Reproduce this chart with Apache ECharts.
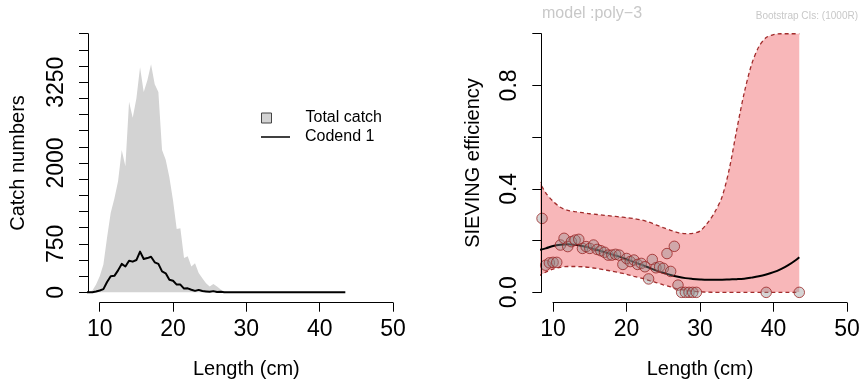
<!DOCTYPE html>
<html><head><meta charset="utf-8">
<script src="https://cdn.jsdelivr.net/npm/echarts@6/dist/echarts.min.js"></script>
<style>html,body{margin:0;padding:0;background:#fff}#c{width:864px;height:387px}</style>
</head><body><div id="c"></div>
<script>
// ---------- left panel data ----------
const lengths = [8,8.5,9,9.5,10,10.5,11,11.5,12,12.5,13,13.5,14,14.5,15,15.5,16,16.5,17,17.5,18,18.5,19,19.5,20,20.5,21,21.5,22,22.5,23,23.5,24,24.5,25,25.5,26,26.5,27,27.5,28,28.5,29,29.5,30,30.5,31,31.5,32,32.5,33,33.5,34,34.5,35,35.5,36,36.5,37,37.5,38,38.5,39,39.5,40,40.5,41,41.5,42,42.5,43,43.5];
const totalCatch = [0,5,30,120,250,430,850,1230,1450,1720,2200,1950,2950,2700,3000,3480,3100,3280,3530,3220,3100,2200,2050,1780,1420,980,990,530,560,400,450,300,220,140,90,130,90,45,15,6,4,3,2,2,0,0,0,0,0,0,0,0,0,0,0,0,0,0,0,0,0,0,2,0,0,0,0,0,0,0,0,1];
const codend1 = [0,1,3,13,29,50,160,250,255,340,440,400,490,475,500,630,515,530,550,465,440,325,295,195,180,120,120,58,62,40,23,38,21,14,8,19,7,8,0.4,0,0,0,0,0,0,0,0,0,0,0,0,0,0,0,0,0,0,0,0,0,0,0,0,0,0,0,0,0,0,0,0,0];
const leftYTicksLabelled = [0, 750, 2000, 3250];
const xTickLabels = [10, 20, 30, 40, 50];

// ---------- right panel data ----------
const obsLength = [8,8.5,9,9.5,10,10.5,11,11.5,12,12.5,13,13.5,14,14.5,15,15.5,16,16.5,17,17.5,18,18.5,19,19.5,20,20.5,21,21.5,22,22.5,23,23.5,24,24.5,25,25.5,26,26.5,27,27.5,28,28.5,29,29.5,39,43.5];
const obsEff = [0.202,0.286,0.105,0.114,0.116,0.116,0.183,0.209,0.177,0.196,0.202,0.205,0.170,0.177,0.170,0.183,0.166,0.161,0.155,0.144,0.144,0.147,0.144,0.108,0.131,0.119,0.125,0.108,0.112,0.099,0.052,0.127,0.095,0.099,0.093,0.150,0.081,0.178,0.028,0,0,0,0,0,0,0];
const curveX = [8,9,10,11,12,13,14,15,16,17,18,19,20,21,22,23,24,25,26,27,28,29,30,31,32,33,34,35,36,37,38,39,40,41,42,43,43.5];
const fitEff = [0.163,0.170,0.179,0.184,0.186,0.184,0.179,0.172,0.164,0.156,0.147,0.138,0.128,0.117,0.107,0.096,0.085,0.076,0.067,0.060,0.055,0.052,0.050,0.049,0.049,0.049,0.050,0.051,0.053,0.057,0.062,0.069,0.078,0.090,0.105,0.124,0.136];
const ciUpper = [0.435,0.385,0.352,0.329,0.317,0.312,0.308,0.304,0.301,0.298,0.295,0.292,0.289,0.285,0.280,0.272,0.261,0.250,0.240,0.231,0.227,0.228,0.237,0.268,0.310,0.370,0.480,0.630,0.770,0.880,0.950,0.985,0.997,1.0,1.0,1.0,1.0];
const ciLower = [0.062,0.078,0.090,0.097,0.100,0.100,0.099,0.096,0.092,0.087,0.082,0.076,0.070,0.062,0.055,0.046,0.038,0.029,0.021,0.013,0.008,0.004,0.002,0.001,0,0,0,0,0,0,0,0,0,0,0,0,0];
const rightYTicksLabelled = [0, 0.4, 0.8];

const FONT = 'Liberation Sans, Arial, Helvetica, sans-serif';
const TICK_FS = 23, NAME_FS = 20;

const pairs = (xs, ys) => xs.map((x, i) => [x, ys[i]]);

// grid geometry (R plot regions and axis extents)
const L = {axLeft: 99.7, axW: 293.3, plotLeft: 88, plotW: 316.7};
const R = {axLeft: 553, axW: 294, plotLeft: 541.3, plotW: 317.5};
const axTop = 33.7, axH = 258.6, plotTop = 23.4, plotH = 279.3;

function shownAxisX(gridIndex, name) {
  return {
    type: 'value', gridIndex, min: 10, max: 50, interval: 10, offset: 10.4, position: 'bottom', z: 10,
    axisLine: {show: true, onZero: false, lineStyle: {color: '#000', width: 1}},
    axisTick: {show: true, length: 9, lineStyle: {color: '#000', width: 1}},
    axisLabel: {show: true, margin: 15, fontSize: TICK_FS, color: '#000', fontFamily: FONT,
      formatter: v => xTickLabels.indexOf(v) >= 0 ? String(v) : ''},
    splitLine: {show: false},
    name, nameLocation: 'middle', nameGap: 57,
    nameTextStyle: {fontSize: NAME_FS, color: '#000', fontFamily: FONT}
  };
}
function hiddenAxis(gridIndex, min, max) {
  return {type: 'value', gridIndex, min, max, show: false, splitLine: {show: false}};
}

const option = {
  animation: false,
  backgroundColor: '#fff',
  textStyle: {fontFamily: FONT},
  title: [
    {text: 'model :poly\u22123', left: 542, top: 6, padding: 0,
      textStyle: {fontSize: 16, fontWeight: 'normal', color: '#c8c8c8', fontFamily: FONT}},
    {text: 'Bootstrap CIs: (1000R)', right: 6, top: 11, padding: 0,
      textStyle: {fontSize: 10, fontWeight: 'normal', color: '#c8c8c8', fontFamily: FONT}}
  ],
  legend: [
    {left: 261, top: 110, padding: 0, orient: 'vertical', itemWidth: 10, itemHeight: 10,
      data: [{name: 'Total catch', icon: 'rect', itemStyle: {color: '#d3d3d3', borderColor: '#444', borderWidth: 1}}],
      textStyle: {fontSize: 16, color: '#000', fontFamily: FONT, padding: [0, 0, 0, 29]}, selectedMode: false},
    {left: 261, top: 129, padding: 0, orient: 'vertical', itemWidth: 29, itemHeight: 1.5,
      data: [{name: 'Codend 1', icon: 'rect', itemStyle: {color: '#000', borderWidth: 0}}],
      textStyle: {fontSize: 16, color: '#000', fontFamily: FONT, padding: [0, 0, 0, 10]}, selectedMode: false}
  ],
  grid: [
    {left: L.axLeft, top: axTop, width: L.axW, height: axH},          // 0 left axes
    {left: L.plotLeft, top: plotTop, width: L.plotW, height: plotH},  // 1 left data
    {left: R.axLeft, top: axTop, width: R.axW, height: axH},          // 2 right axes
    {left: R.plotLeft, top: plotTop, width: R.plotW, height: plotH}   // 3 right data
  ],
  xAxis: [
    shownAxisX(0, 'Length (cm)'),
    hiddenAxis(1, 8.4, 51.6),
    shownAxisX(2, 'Length (cm)'),
    hiddenAxis(3, 8.4, 51.6)
  ],
  yAxis: [
    {type: 'value', gridIndex: 0, min: 0, max: 4000, interval: 250, offset: 11.7, position: 'left', z: 10,
      axisLine: {show: true, lineStyle: {color: '#000', width: 1}},
      axisTick: {show: true, length: 9, lineStyle: {color: '#000', width: 1}},
      axisLabel: {show: true, rotate: 90, margin: 20, fontSize: TICK_FS, color: '#000', fontFamily: FONT,
        formatter: v => leftYTicksLabelled.indexOf(v) >= 0 ? String(v) : ''},
      splitLine: {show: false},
      name: 'Catch numbers', nameLocation: 'middle', nameGap: 60, nameRotate: 90,
      nameTextStyle: {fontSize: NAME_FS, color: '#000', fontFamily: FONT}},
    hiddenAxis(1, -160, 4160),
    {type: 'value', gridIndex: 2, min: 0, max: 1, interval: 0.2, offset: 11.7, position: 'left', z: 10,
      axisLine: {show: true, lineStyle: {color: '#000', width: 1}},
      axisTick: {show: true, length: 9, lineStyle: {color: '#000', width: 1}},
      axisLabel: {show: true, rotate: 90, margin: 20, fontSize: TICK_FS, color: '#000', fontFamily: FONT,
        formatter: v => rightYTicksLabelled.some(t => Math.abs(t - v) < 1e-9) ? v.toFixed(1) : ''},
      splitLine: {show: false},
      name: 'SIEVING efficiency', nameLocation: 'middle', nameGap: 58, nameRotate: 90,
      nameTextStyle: {fontSize: NAME_FS, color: '#000', fontFamily: FONT}},
    hiddenAxis(3, -0.04, 1.04)
  ],
  series: [
    {name: 'Total catch', type: 'line', xAxisIndex: 1, yAxisIndex: 1, data: pairs(lengths, totalCatch),
      symbol: 'none', clip: true, lineStyle: {width: 0, color: '#d3d3d3'},
      itemStyle: {color: '#d3d3d3'}, areaStyle: {color: '#d3d3d3', opacity: 1}, z: 2},
    {name: 'Codend 1', type: 'line', xAxisIndex: 1, yAxisIndex: 1, data: pairs(lengths, codend1),
      symbol: 'none', clip: true, lineStyle: {width: 2, color: '#000', join: 'round'}, itemStyle: {color: '#000'}, z: 3},

    // CI band: pink fill under upper bound, then white fill under lower bound
    {name: 'ciUpper', type: 'line', xAxisIndex: 3, yAxisIndex: 3, data: pairs(curveX, ciUpper),
      symbol: 'none', smooth: 0.3, clip: true,
      lineStyle: {width: 1.3, color: '#a12b2b', type: [4, 3]},
      areaStyle: {color: '#f8b7b9', opacity: 1}, z: 2},
    {name: 'ciLower', type: 'line', xAxisIndex: 3, yAxisIndex: 3, data: pairs(curveX, ciLower),
      symbol: 'none', smooth: 0.3, clip: true,
      lineStyle: {width: 1.3, color: '#a12b2b', type: [4, 3]},
      areaStyle: {color: '#ffffff', opacity: 1, origin: 'start'}, z: 3},
    {name: 'fit', type: 'line', xAxisIndex: 3, yAxisIndex: 3, data: pairs(curveX, fitEff),
      symbol: 'none', smooth: 0.4, clip: true, lineStyle: {width: 2, color: '#000'}, z: 4},
    {name: 'obs', type: 'scatter', xAxisIndex: 3, yAxisIndex: 3, data: pairs(obsLength, obsEff),
      symbol: 'circle', symbolSize: 10.5, clip: true,
      itemStyle: {color: 'rgba(140,140,140,0.46)', borderColor: '#9b2626', borderWidth: 1}, z: 5}
  ]
};
const chart = echarts.init(document.getElementById('c'), null, {renderer: 'canvas'});
chart.setOption(option);
</script>
</body></html>
